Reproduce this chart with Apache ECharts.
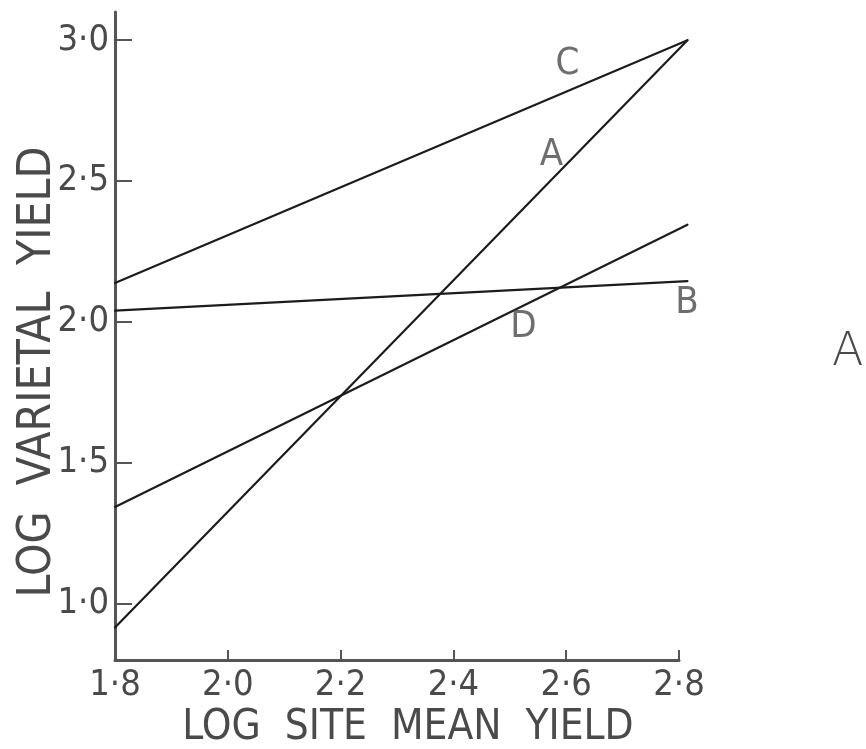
<!DOCTYPE html>
<html>
<head>
<meta charset="utf-8">
<script src="https://cdn.jsdelivr.net/npm/echarts@6/dist/echarts.min.js"></script>
<style>
html,body{margin:0;padding:0;background:#fff;}
#chart{width:866px;height:749px;}
</style>
</head>
<body>
<div id="chart"></div>
<script>
// Data
const xEnds = [1.8, 2.815];
const lineA = [0.915, 3.0];
const lineB = [2.04, 2.145];
const lineC = [2.138, 3.0];
const lineD = [1.343, 2.345];
const lineNames = ['A', 'B', 'C', 'D'];
const labelPos = { A: [2.574, 2.593], B: [2.814, 2.067], C: [2.602, 2.915], D: [2.524, 1.982] };
const xTicks = [1.8, 2.0, 2.2, 2.4, 2.6, 2.8];
const yTicks = [1.0, 1.5, 2.0, 2.5, 3.0];
const xTitle = 'LOG  SITE  MEAN  YIELD';
const yTitle = 'LOG  VARIETAL  YIELD';
const panelLabel = 'A';

const FONT = '"Liberation Sans Narrow","DejaVu Sans Condensed",sans-serif';
const TXT = '#4a4a4a';
const fmt = v => Number(v).toFixed(1).replace('.', '·');

const seriesData = { A: lineA, B: lineB, C: lineC, D: lineD };
const series = [{
  type: 'custom', name: 'lines', clip: false, animation: false,
  data: lineNames.map(n => [xEnds[0], seriesData[n][0], xEnds[1], seriesData[n][1]]),
  renderItem: function (params, api) {
    const p0 = api.coord([api.value(0), api.value(1)]);
    const p1 = api.coord([api.value(2), api.value(3)]);
    return {
      type: 'line',
      shape: { x1: p0[0], y1: p0[1], x2: p1[0], y2: p1[1] },
      style: { stroke: '#1c1c1c', lineWidth: 2.2, lineCap: 'round' }
    };
  }
}];
series.push({
  type: 'scatter', symbolSize: 0, clip: false, animation: false,
  label: { show: true, position: 'inside', formatter: p => p.data[2],
           fontFamily: FONT, fontSize: 38, color: TXT },
  data: lineNames.map(n => [labelPos[n][0], labelPos[n][1], n])
});

const chart = echarts.init(document.getElementById('chart'), null, { renderer: 'canvas' });
chart.setOption({
  backgroundColor: '#fff',
  animation: false,
  grid: { left: 115, right: 187, top: 12, bottom: 89, containLabel: false, outerBoundsMode: 'none' },
  xAxis: {
    type: 'value', min: 1.8, max: 2.8,
    axisLine: { show: true, onZero: false, lineStyle: { color: '#555', width: 3 } },
    axisTick: { show: true, inside: true, length: 10, customValues: xTicks, lineStyle: { color: '#555', width: 2 } },
    axisLabel: { customValues: xTicks, formatter: fmt, margin: 8, fontFamily: FONT, fontSize: 36, color: TXT },
    splitLine: { show: false },
    name: xTitle, nameLocation: 'middle', nameGap: 47, nameMoveOverlap: false,
    nameTextStyle: { fontFamily: FONT, fontSize: 42, color: TXT, padding: [0, 0, 0, 22] }
  },
  yAxis: {
    type: 'value', min: 0.8, max: 3.1,
    axisLine: { show: true, onZero: false, lineStyle: { color: '#555', width: 3 } },
    axisTick: { show: true, inside: true, length: 17, customValues: yTicks, lineStyle: { color: '#555', width: 2 } },
    axisLabel: { customValues: yTicks, formatter: fmt, margin: 6, fontFamily: FONT, fontSize: 36, color: TXT },
    splitLine: { show: false },
    name: yTitle, nameLocation: 'middle', nameGap: 54, nameMoveOverlap: false,
    nameTextStyle: { fontFamily: FONT, fontSize: 46, color: TXT, padding: [0, 72, 0, 0] }
  },
  graphic: [{
    type: 'text', left: 832, top: 330,
    style: { text: panelLabel, fontFamily: '"DejaVu Sans","Liberation Sans",sans-serif', fontSize: 46, fill: TXT, fontWeight: 'lighter' }
  }],
  series: series
});
</script>
</body>
</html>
